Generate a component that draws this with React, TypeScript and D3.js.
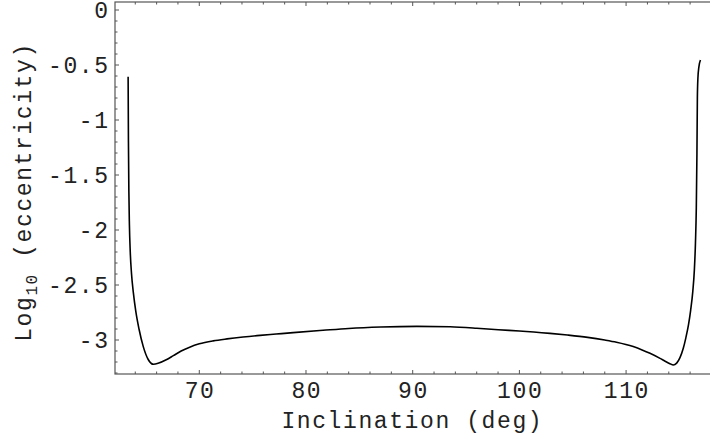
import React, { useRef, useEffect } from 'react';
import * as d3 from 'd3';

// curve readings: inclination (deg) vs log10(eccentricity)
const inclination = [
  63.33, 63.36, 63.4, 63.45, 63.53, 63.65, 63.82, 64.05, 64.35, 64.75, 65.2, 65.7,
  66.2, 66.9, 67.57, 68.3, 69.1, 70.0, 71.3, 72.6, 74.1, 75.7, 77.2, 78.8,
  81.6, 84.0, 87.0, 90.4, 93.5, 96.0, 98.02, 100.0, 102.87, 104.5, 106.4, 108.0,
  109.1, 110.67, 111.5, 112.24, 113.18, 113.7, 114.11, 114.42, 114.74, 115.05, 115.36,
  115.6, 115.85, 116.05, 116.25, 116.4, 116.5, 116.58, 116.64, 116.68, 116.73,
  116.82, 116.97,
];
const logEcc = [
  -0.606, -1.2, -1.65, -1.95, -2.2, -2.4, -2.57, -2.74, -2.9, -3.06, -3.175, -3.221,
  -3.21, -3.18, -3.142, -3.1, -3.065, -3.035, -3.008, -2.99, -2.973, -2.958, -2.946, -2.933,
  -2.912, -2.895, -2.882, -2.876, -2.88, -2.893, -2.907, -2.918, -2.94, -2.955, -2.976, -3.0,
  -3.02, -3.06, -3.09, -3.121, -3.167, -3.195, -3.215, -3.227, -3.21, -3.16, -3.075,
  -2.98, -2.86, -2.73, -2.56, -2.36, -2.12, -1.8, -1.3, -0.8, -0.62,
  -0.52, -0.455,
];

const xMajor = [70, 80, 90, 100, 110];
const xMinor = d3.range(64, 118, 2);
const yMajor = [0, -0.5, -1, -1.5, -2, -2.5, -3];
const yMajorLabels = ['0', '-0.5', '-1', '-1.5', '-2', '-2.5', '-3'];
const yMinor = d3.range(0, -3.31, -0.1);

const W = 710;
const H = 440;
const FONT = '"Liberation Mono", "DejaVu Sans Mono", monospace';
const FS = 23;
const LS = 1.6;
const TEXT = '#222';

const App = () => {
  const svgRef = useRef<SVGSVGElement | null>(null);

  useEffect(() => {
    if (!svgRef.current) return;
    const svg = d3.select(svgRef.current);
    svg.selectAll('*').remove();

    const x = d3.scaleLinear().domain([62.1, 118.2]).range([115, 115 + 56.1 * 10.67]);
    const y = d3.scaleLinear().domain([0, -3]).range([10, 340]);
    const top = 2;
    const bottom = 374;
    const left = x(62.1);
    const right = x(118.2);

    const frameColor = '#555';
    const g = svg.append('g');

    // frame
    g.append('rect')
      .attr('x', left).attr('y', top)
      .attr('width', right - left).attr('height', bottom - top)
      .attr('fill', 'none').attr('stroke', frameColor).attr('stroke-width', 1.2);

    // x ticks (bottom + top, inward)
    xMinor.forEach(v => {
      const len = xMajor.includes(v) ? 4 : 2.5;
      g.append('line').attr('x1', x(v)).attr('x2', x(v))
        .attr('y1', bottom).attr('y2', bottom - len)
        .attr('stroke', frameColor).attr('stroke-width', 1);
      g.append('line').attr('x1', x(v)).attr('x2', x(v))
        .attr('y1', top).attr('y2', top + len)
        .attr('stroke', frameColor).attr('stroke-width', 1);
    });

    // y ticks (left, inward)
    yMinor.forEach(v => {
      const isMajor = yMajor.some(m => Math.abs(m - v) < 1e-6);
      const len = isMajor ? 4 : 2.5;
      g.append('line').attr('x1', left).attr('x2', left + len)
        .attr('y1', y(v)).attr('y2', y(v))
        .attr('stroke', frameColor).attr('stroke-width', 1);
    });

    // tick labels
    g.selectAll('.xl').data(xMajor).enter().append('text')
      .attr('x', d => x(d) + LS / 2).attr('y', 398)
      .attr('text-anchor', 'middle')
      .attr('font-family', FONT).attr('font-size', FS).attr('letter-spacing', LS).attr('fill', TEXT)
      .text(d => String(d));

    g.selectAll('.yl').data(yMajor).enter().append('text')
      .attr('x', 108 + LS).attr('y', d => y(d)).attr('dy', '0.36em')
      .attr('text-anchor', 'end')
      .attr('font-family', FONT).attr('font-size', FS).attr('letter-spacing', LS).attr('fill', TEXT)
      .text((d, i) => yMajorLabels[i]);

    // axis titles
    g.append('text')
      .attr('x', 411.5 + LS / 2).attr('y', 428)
      .attr('text-anchor', 'middle')
      .attr('font-family', FONT).attr('font-size', FS).attr('letter-spacing', LS).attr('fill', TEXT)
      .text('Inclination (deg)');

    const yl = g.append('text')
      .attr('transform', 'translate(31,192) rotate(-90)')
      .attr('text-anchor', 'middle')
      .attr('font-family', FONT).attr('font-size', FS).attr('letter-spacing', LS).attr('fill', TEXT);
    yl.append('tspan').text('Log');
    yl.append('tspan').attr('font-size', 16).attr('dy', 6).text('10');
    yl.append('tspan').attr('dy', -6).text(' (eccentricity)');

    // curve
    const pts = inclination.map((d, i) => [d, logEcc[i]] as [number, number]);
    const line = d3.line<[number, number]>()
      .x(d => x(d[0])).y(d => y(d[1]))
      .curve(d3.curveMonotoneX);
    g.append('path')
      .attr('d', line(pts) || '')
      .attr('fill', 'none').attr('stroke', '#000').attr('stroke-width', 1.6);
  }, []);

  return (
    <svg ref={svgRef} width={W} height={H}
      style={{ position: 'absolute', left: 0, top: 0, background: '#fff' }} />
  );
};

export default App;
